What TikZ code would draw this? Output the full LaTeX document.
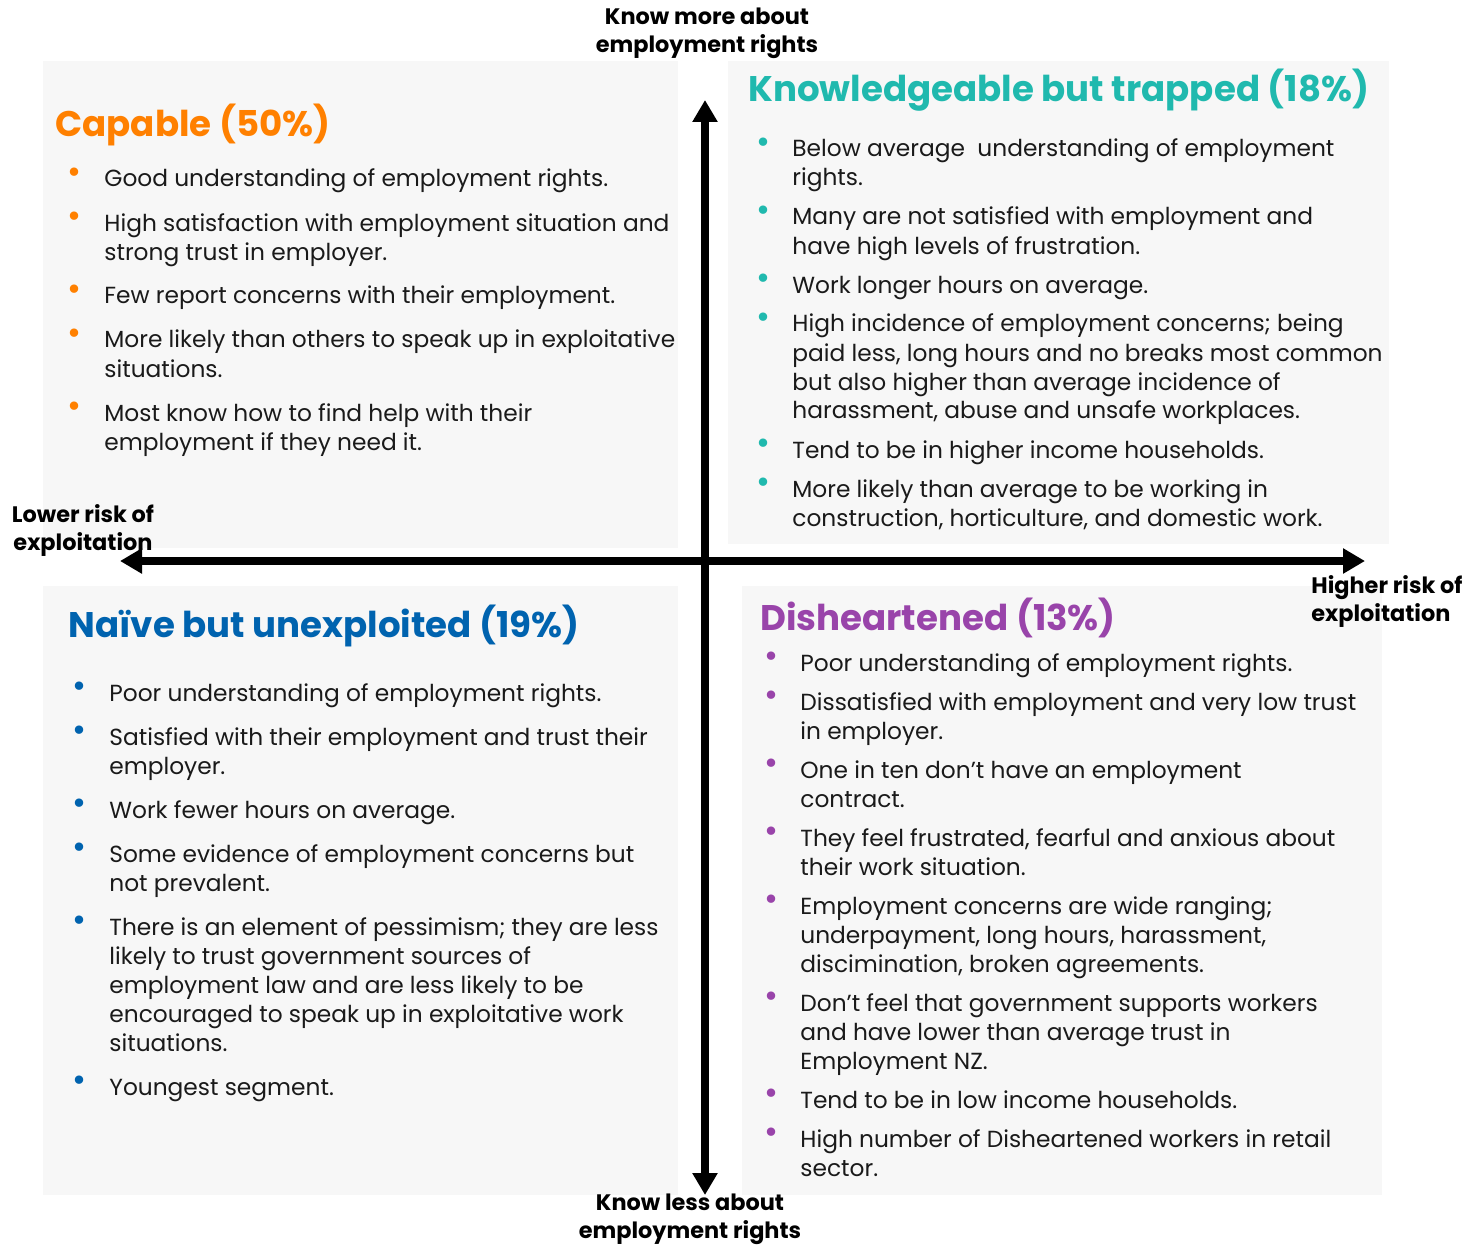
\documentclass[tikz,border=0pt]{standalone}
\usepackage{fontspec}
\setmainfont{Poppins}
\usepackage{tikz}
\usetikzlibrary{arrows.meta, positioning}
\usepackage{xcolor}
\definecolor{capOrange}{RGB}{255,128,0}
\definecolor{ktTeal}{RGB}{32,185,174}
\definecolor{naiveBlue}{RGB}{0,99,175}
\definecolor{dhPurple}{RGB}{153,68,170}
\definecolor{panelGray}{RGB}{247,247,247}
\definecolor{bodyText}{RGB}{26,26,26}
\newcommand{\bul}[1]{\textcolor{#1}{\raisebox{1.6pt}{\fontsize{17}{17}\selectfont\textbullet}}}
\tikzset{
  panel/.style={fill=panelGray, draw=none},
  ttl/.style={anchor=base west, inner sep=0pt,
    font=\fontsize{17.8}{22}\selectfont\bfseries},
  body/.style={anchor=base west, inner sep=0pt, text=bodyText,
    font=\fontsize{11.65}{14.5}\selectfont},
  axlbl/.style={align=center, inner sep=0pt,
    font=\fontsize{11.2}{14}\selectfont\bfseries},
  axis/.style={line width=4pt,
    {Triangle[width=12pt,length=11pt]}-{Triangle[width=12pt,length=11pt]}},
}

\begin{document}
\begin{tikzpicture}[x=0.5pt, y=-0.5pt]
  \useasboundingbox (0,0) rectangle (1465,1246);

  % quadrant backgrounds
  \fill[panel] (43,61)  rectangle (678,548);
  \fill[panel] (728,61) rectangle (1389,544);
  \fill[panel] (43,586) rectangle (678,1195);
  \fill[panel] (742,586) rectangle (1382,1195);

  % axes
  \coordinate (up)    at (705,100);
  \coordinate (down)  at (705,1195);
  \coordinate (west)  at (120,561);
  \coordinate (east)  at (1365,561);
  \draw[axis] (down) -- (up);
  \draw[axis] (west) -- (east);

  \node[axlbl] (more)   at (707,33)   {Know more about\\employment rights};
  \node[axlbl] (less)   at (690,1219) {Know less about\\employment rights};
  \node[axlbl] (lower)  at (83,531)   {Lower risk of\\exploitation};
  \node[axlbl, align=left, anchor=west] (higher) at (1311,602)
       {Higher risk of\\exploitation};

  % top left
  \node[ttl, text=capOrange] (capT) at (55,137) {Capable (50\%)};
  \node[body] (capL) at (67,187) {\begin{tabular}[t]{@{}p{18.5pt}@{}l@{}}
    \bul{capOrange} & Good understanding of employment rights.\\[7.5pt]
    \bul{capOrange} & High satisfaction with employment situation and\\
                    & strong trust in employer.\\[7.5pt]
    \bul{capOrange} & Few report concerns with their employment.\\[7.5pt]
    \bul{capOrange} & More likely than others to speak up in exploitative\\
                    & situations.\\[7.5pt]
    \bul{capOrange} & Most know how to find help with their\\
                    & employment if they need it.
  \end{tabular}};

  % top right
  \node[ttl, text=ktTeal] (ktT) at (748,102) {Knowledgeable but trapped (18\%)};
  \node[body] (ktL) at (756,157) {\begin{tabular}[t]{@{}p{18pt}@{}l@{}}
    \bul{ktTeal} & Below average\ \ understanding of employment\\
                 & rights.\\[5pt]
    \bul{ktTeal} & Many are not satisfied with employment and\\
                 & have high levels of frustration.\\[5pt]
    \bul{ktTeal} & Work longer hours on average.\\[5pt]
    \bul{ktTeal} & High incidence of employment concerns; being\\
                 & paid less, long hours and no breaks most common\\
                 & but also higher than average incidence of\\
                 & harassment, abuse and unsafe workplaces.\\[5pt]
    \bul{ktTeal} & Tend to be in higher income households.\\[5pt]
    \bul{ktTeal} & More likely than average to be working in\\
                 & construction, horticulture, and domestic work.
  \end{tabular}};

  % bottom left
  \node[ttl, text=naiveBlue] (nvT) at (68,637) {Naïve but unexploited (19\%)};
  \node[body] (nvL) at (72,701) {\begin{tabular}[t]{@{}p{18.5pt}@{}l@{}}
    \bul{naiveBlue} & Poor understanding of employment rights.\\[7.5pt]
    \bul{naiveBlue} & Satisfied with their employment and trust their\\
                    & employer.\\[7.5pt]
    \bul{naiveBlue} & Work fewer hours on average.\\[7.5pt]
    \bul{naiveBlue} & Some evidence of employment concerns but\\
                    & not prevalent.\\[7.5pt]
    \bul{naiveBlue} & There is an element of pessimism; they are less\\
                    & likely to trust government sources of\\
                    & employment law and are less likely to be\\
                    & encouraged to speak up in exploitative work\\
                    & situations.\\[7.5pt]
    \bul{naiveBlue} & Youngest segment.
  \end{tabular}};

  % bottom right
  \node[ttl, text=dhPurple] (dhT) at (760,630) {Disheartened (13\%)};
  \node[body] (dhL) at (764,671) {\begin{tabular}[t]{@{}p{18pt}@{}l@{}}
    \bul{dhPurple} & Poor understanding of employment rights.\\[5pt]
    \bul{dhPurple} & Dissatisfied with employment and very low trust\\
                   & in employer.\\[5pt]
    \bul{dhPurple} & One in ten don’t have an employment\\
                   & contract.\\[5pt]
    \bul{dhPurple} & They feel frustrated, fearful and anxious about\\
                   & their work situation.\\[5pt]
    \bul{dhPurple} & Employment concerns are wide ranging;\\
                   & underpayment, long hours, harassment,\\
                   & discimination, broken agreements.\\[5pt]
    \bul{dhPurple} & Don’t feel that government supports workers\\
                   & and have lower than average trust in\\
                   & Employment NZ.\\[5pt]
    \bul{dhPurple} & Tend to be in low income households.\\[5pt]
    \bul{dhPurple} & High number of Disheartened workers in retail\\
                   & sector.
  \end{tabular}};
\end{tikzpicture}
\end{document}
